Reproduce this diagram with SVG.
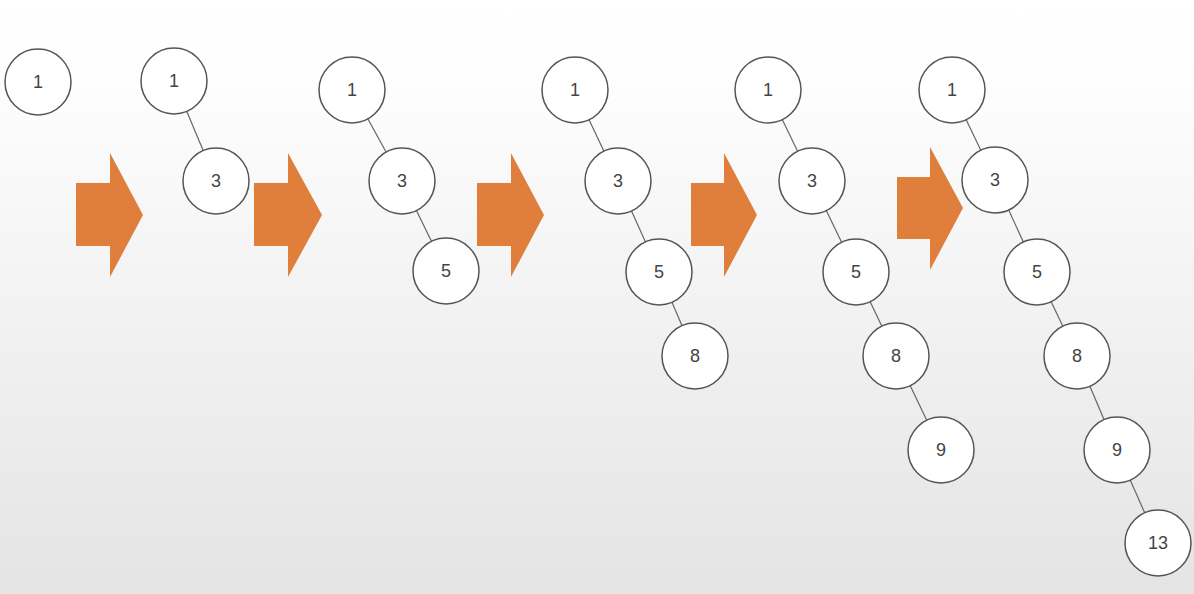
<svg xmlns="http://www.w3.org/2000/svg" width="1194" height="594" viewBox="0 0 1194 594">
<defs>
<linearGradient id="bg" x1="0" y1="0" x2="0" y2="1">
<stop offset="0" stop-color="#ffffff"/>
<stop offset="0.12" stop-color="#fefefe"/>
<stop offset="1" stop-color="#e4e4e4"/>
</linearGradient>
<style>
.n circle{fill:#fff;stroke:#555;stroke-width:1.5}
.n text{font-family:"Liberation Sans",Arial,sans-serif;font-size:18px;fill:#444;text-anchor:middle;dominant-baseline:central}
.e line{stroke:#666;stroke-width:1.2}
.arr{fill:#e07f3c}
</style>
</defs>
<rect width="1194" height="594" fill="url(#bg)"/>
<g id="arrows">
<polygon class="arr" points="76,183 110,183 110,153 143,215 110,277 110,246 76,246"/>
<polygon class="arr" points="254,183 288,183 288,153 322,215 288,277 288,246 254,246"/>
<polygon class="arr" points="477,183 511,183 511,153 544,215 511,277 511,246 477,246"/>
<polygon class="arr" points="691,183 724,183 724,153 757,215 724,277 724,246 691,246"/>
<polygon class="arr" points="897,177 930,177 930,147 963,208 930,270 930,239 897,239"/>
</g>
<g id="connectors" class="e">
<line x1="174" y1="81" x2="216" y2="181"/>
<line x1="352" y1="90" x2="402" y2="181"/>
<line x1="402" y1="181" x2="446" y2="271"/>
<line x1="575" y1="90" x2="618" y2="181"/>
<line x1="618" y1="181" x2="659" y2="272"/>
<line x1="659" y1="272" x2="695" y2="356"/>
<line x1="768" y1="90" x2="812" y2="181"/>
<line x1="812" y1="181" x2="856" y2="272"/>
<line x1="856" y1="272" x2="896" y2="356"/>
<line x1="896" y1="356" x2="941" y2="450"/>
<line x1="952" y1="90" x2="995" y2="180"/>
<line x1="995" y1="180" x2="1037" y2="272"/>
<line x1="1037" y1="272" x2="1077" y2="356"/>
<line x1="1077" y1="356" x2="1117" y2="450"/>
<line x1="1117" y1="450" x2="1158" y2="543"/>
</g>
<g id="t1n1" class="n"><circle cx="38" cy="82" r="33"/><text x="38" y="82">1</text></g>
<g id="t2n1" class="n"><circle cx="174" cy="81" r="33"/><text x="174" y="81">1</text></g>
<g id="t2n3" class="n"><circle cx="216" cy="181" r="33"/><text x="216" y="181">3</text></g>
<g id="t3n1" class="n"><circle cx="352" cy="90" r="33"/><text x="352" y="90">1</text></g>
<g id="t3n3" class="n"><circle cx="402" cy="181" r="33"/><text x="402" y="181">3</text></g>
<g id="t3n5" class="n"><circle cx="446" cy="271" r="33"/><text x="446" y="271">5</text></g>
<g id="t4n1" class="n"><circle cx="575" cy="90" r="33"/><text x="575" y="90">1</text></g>
<g id="t4n3" class="n"><circle cx="618" cy="181" r="33"/><text x="618" y="181">3</text></g>
<g id="t4n5" class="n"><circle cx="659" cy="272" r="33"/><text x="659" y="272">5</text></g>
<g id="t4n8" class="n"><circle cx="695" cy="356" r="33"/><text x="695" y="356">8</text></g>
<g id="t5n1" class="n"><circle cx="768" cy="90" r="33"/><text x="768" y="90">1</text></g>
<g id="t5n3" class="n"><circle cx="812" cy="181" r="33"/><text x="812" y="181">3</text></g>
<g id="t5n5" class="n"><circle cx="856" cy="272" r="33"/><text x="856" y="272">5</text></g>
<g id="t5n8" class="n"><circle cx="896" cy="356" r="33"/><text x="896" y="356">8</text></g>
<g id="t5n9" class="n"><circle cx="941" cy="450" r="33"/><text x="941" y="450">9</text></g>
<g id="t6n1" class="n"><circle cx="952" cy="90" r="33"/><text x="952" y="90">1</text></g>
<g id="t6n3" class="n"><circle cx="995" cy="180" r="33"/><text x="995" y="180">3</text></g>
<g id="t6n5" class="n"><circle cx="1037" cy="272" r="33"/><text x="1037" y="272">5</text></g>
<g id="t6n8" class="n"><circle cx="1077" cy="356" r="33"/><text x="1077" y="356">8</text></g>
<g id="t6n9" class="n"><circle cx="1117" cy="450" r="33"/><text x="1117" y="450">9</text></g>
<g id="t6n13" class="n"><circle cx="1158" cy="543" r="33"/><text x="1158" y="543">13</text></g>
</svg>
